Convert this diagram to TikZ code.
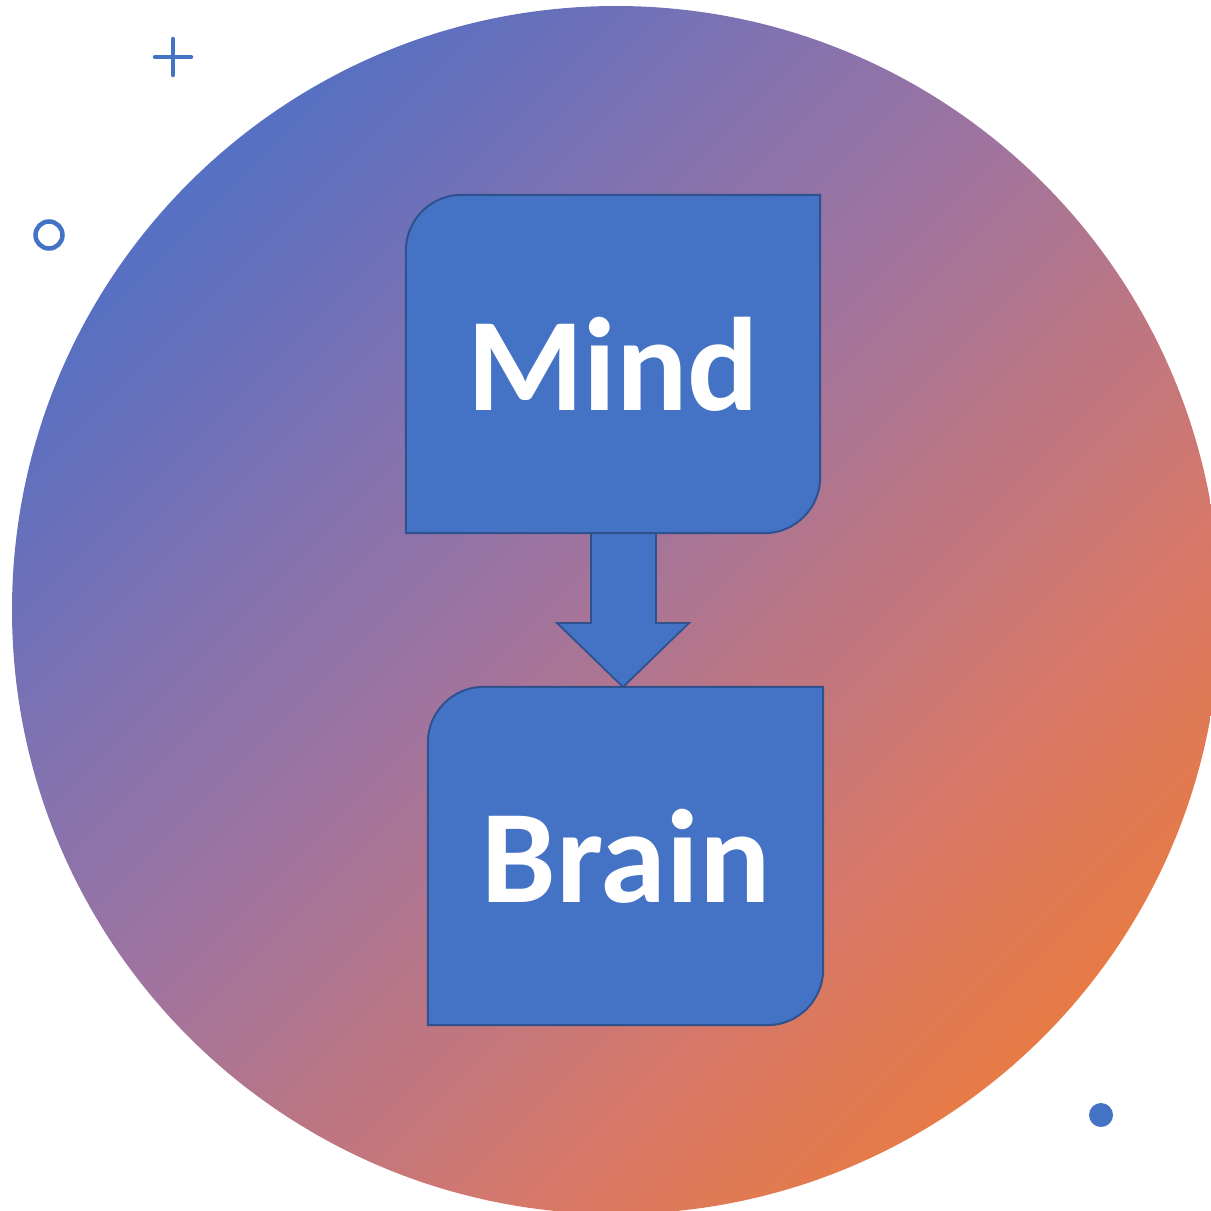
\documentclass[tikz,border=0pt]{standalone}
\usepackage{fontspec}
\setmainfont{Carlito}
\definecolor{gA}{HTML}{5670C3}
\definecolor{gB}{HTML}{6470BC}
\definecolor{gC}{HTML}{7A72B4}
\definecolor{gD}{HTML}{A0749F}
\definecolor{gE}{HTML}{D6786A}
\definecolor{gF}{HTML}{E07A55}
\definecolor{gG}{HTML}{E77B46}
\definecolor{boxfill}{HTML}{4472C4}
\definecolor{boxline}{HTML}{2F528F}
\definecolor{deco}{HTML}{4472C4}
\pgfdeclarehorizontalshading{diaggrad}{100bp}{color(0bp)=(gA); color(25bp)=(gA); color(29.6bp)=(gB); color(35.5bp)=(gC); color(47.2bp)=(gD); color(64.8bp)=(gE); color(70.6bp)=(gF); color(75bp)=(gG); color(100bp)=(gG)}
\tikzset{
  flowbox/.style={fill=boxfill, draw=boxline, line width=2pt},
  label/.style={text=white, font=\fontsize{133}{150}\selectfont\bfseries, inner sep=0pt},
  decoline/.style={draw=deco, line width=4.5pt, line cap=round}
}
\begin{document}
\begin{tikzpicture}[x=1pt,y=-1pt]
\useasboundingbox (0,0) rectangle (1211,1211);
\begin{scope}
\clip (0,0) rectangle (1211,1211);
\shade[shading=diaggrad, shading angle=-45] (616,610) circle (604);
\end{scope}
% decorations
\coordinate (plusC) at (173,57);
\draw[decoline] ([xshift=-18pt]plusC) -- ([xshift=18pt]plusC);
\draw[decoline] ([yshift=18pt]plusC) -- ([yshift=-18pt]plusC);
\coordinate (ringC) at (49,235);
\draw[decoline] (ringC) circle (13.5);
\coordinate (dotC) at (1101,1115);
\fill[deco] (dotC) circle (12);
% boxes
\node (mind) [inner sep=0pt, minimum width=414pt, minimum height=338pt] at (613,364) {};
\node (brain) [inner sep=0pt, minimum width=395pt, minimum height=338pt] at (625.5,856) {};
% block arrow
\coordinate (arrTop) at (623.5,533);
\coordinate (arrTip) at (623,687);
\draw[flowbox, line width=1.8pt, line join=miter] ([xshift=-32.5pt]arrTop) -- ([xshift=-32.5pt]arrTop |- 0,623) -- (557,623) -- (arrTip) -- (689,623) -- ([xshift=32.5pt]arrTop |- 0,623) -- ([xshift=32.5pt]arrTop) -- cycle;
\draw[flowbox] (mind.south west) -- ([yshift=-56pt]mind.north west) arc(180:270:56) -- (mind.north east) -- ([yshift=56pt]mind.south east) arc(0:90:56) -- cycle;
\draw[flowbox] (brain.south west) -- ([yshift=-56pt]brain.north west) arc(180:270:56) -- (brain.north east) -- ([yshift=56pt]brain.south east) arc(0:90:56) -- cycle;
% labels
\node[label, anchor=base] (mindtext) at (613,410) {Mind};
\node[label, anchor=base] (braintext) at (626,902) {Brain};
\end{tikzpicture}
\end{document}
